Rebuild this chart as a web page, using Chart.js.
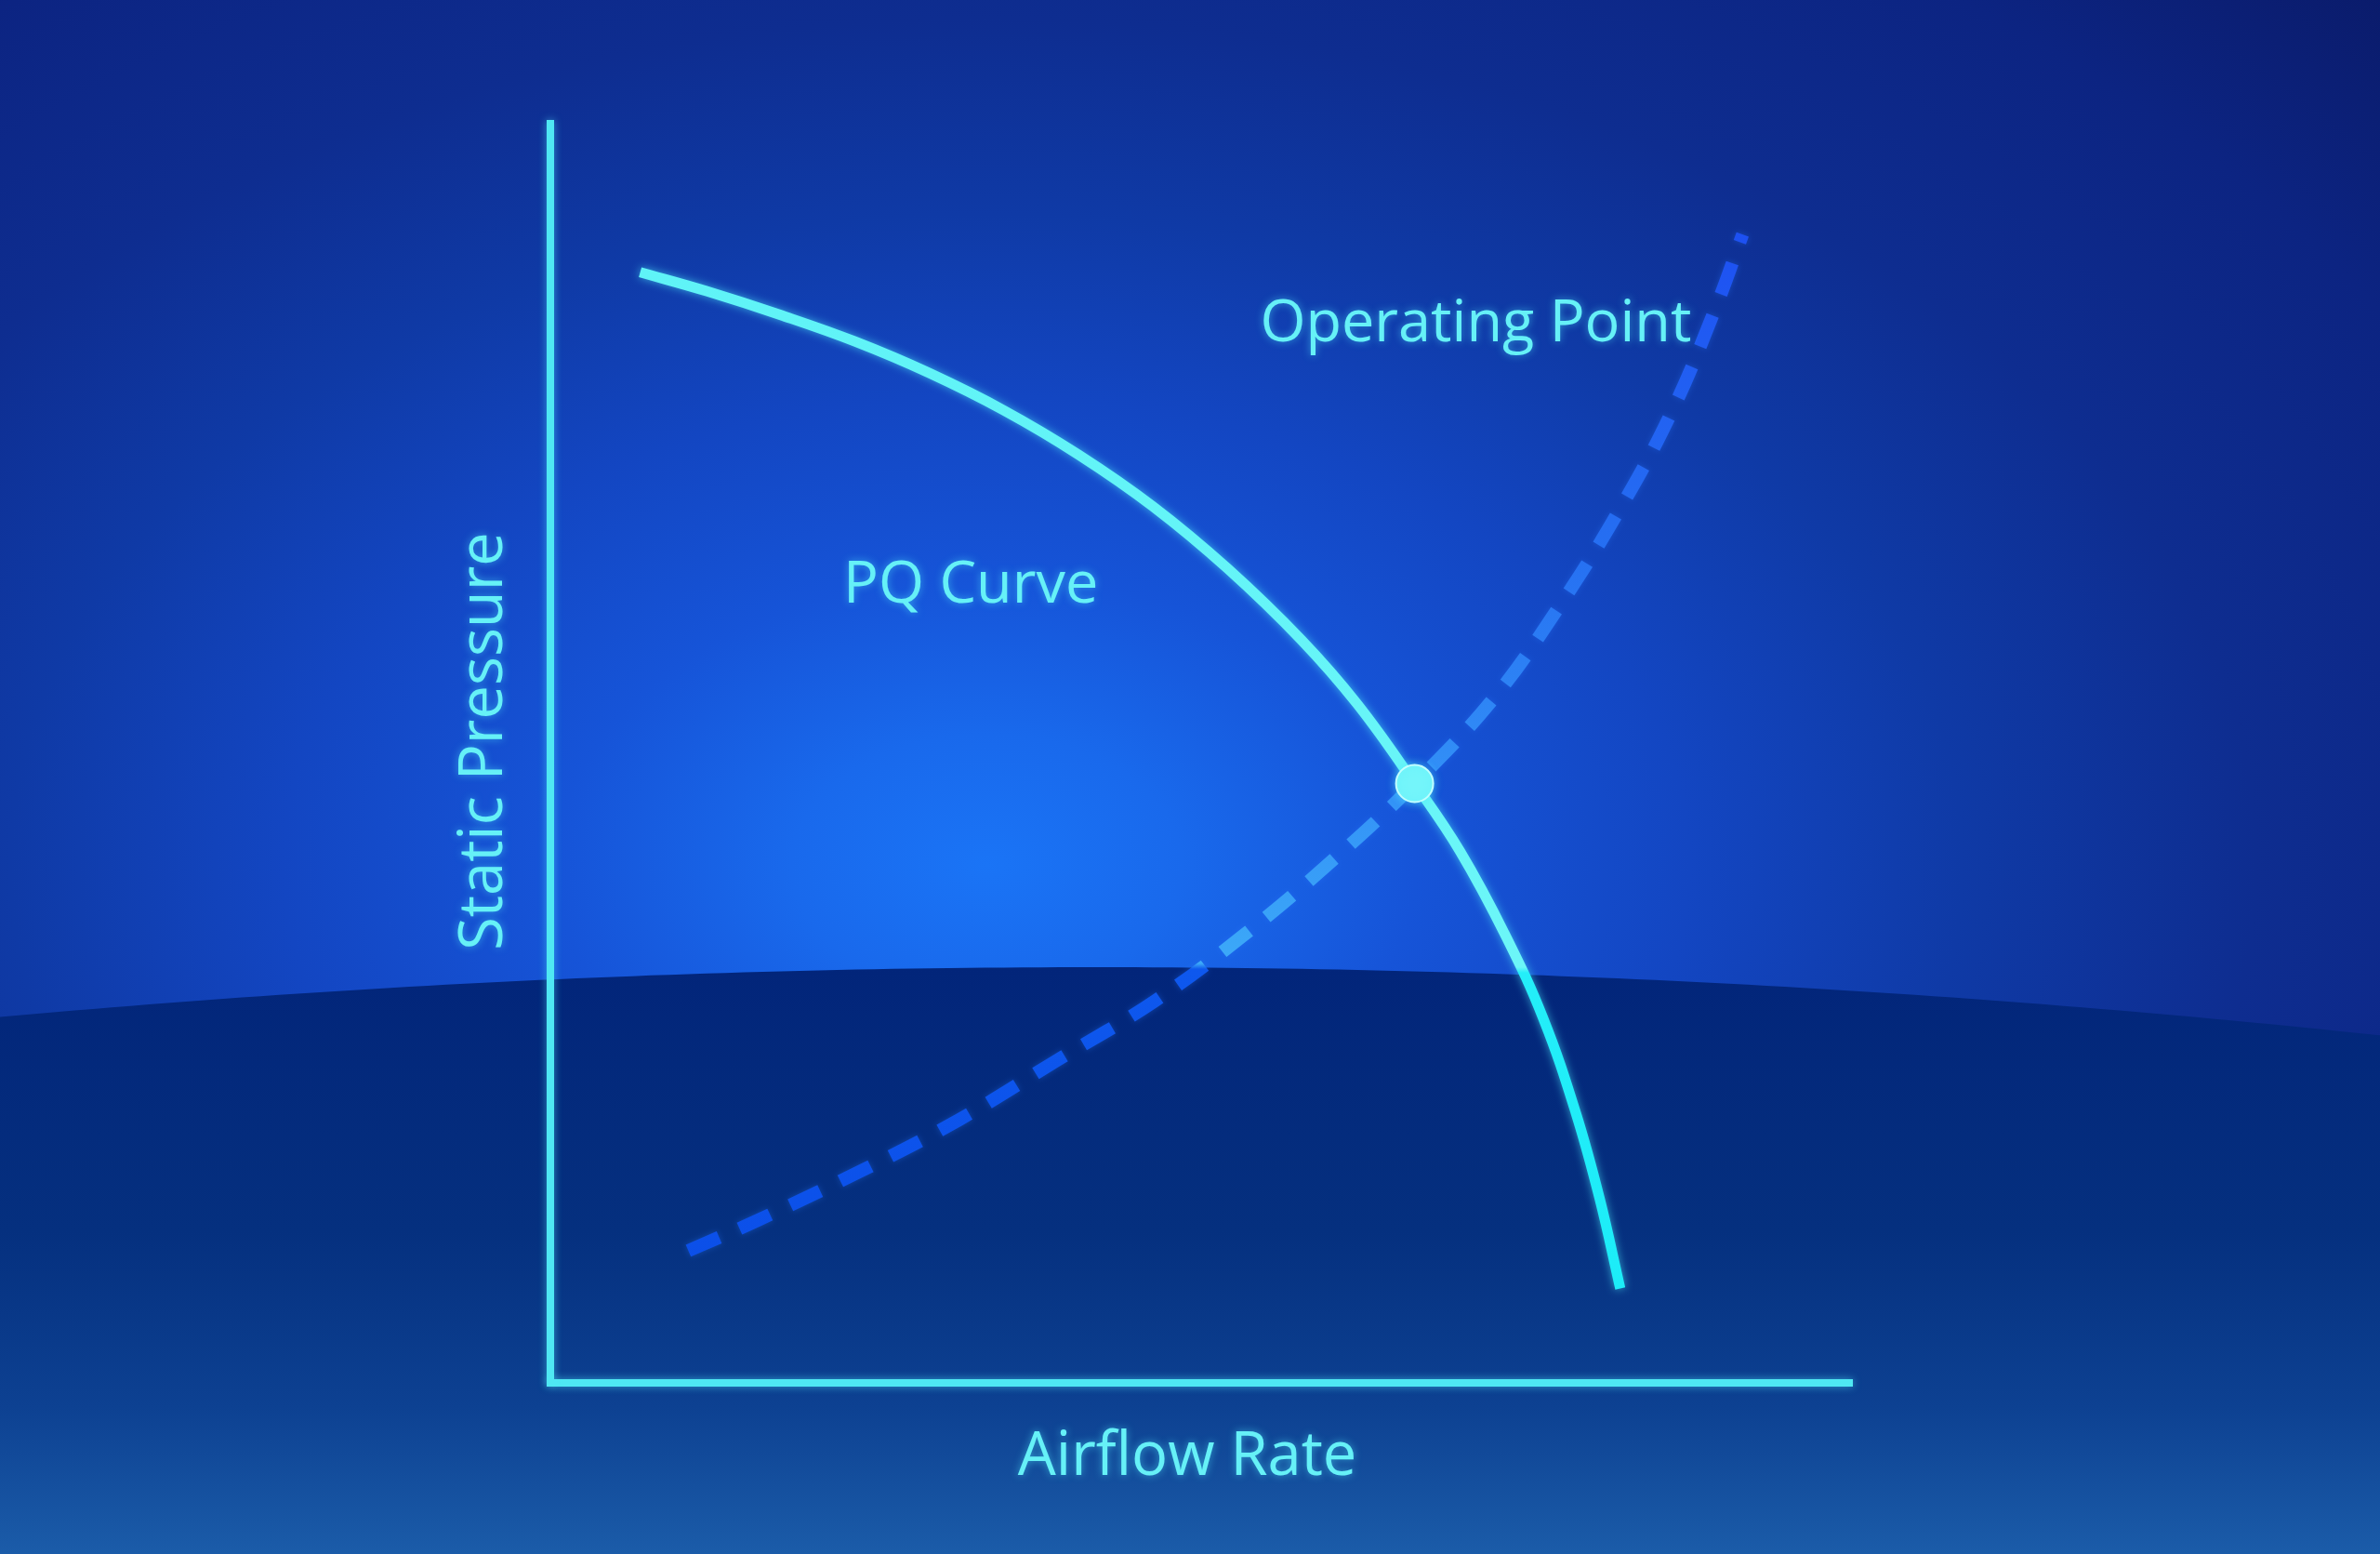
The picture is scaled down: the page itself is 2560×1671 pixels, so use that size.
<!DOCTYPE html>
<html>
<head>
<meta charset="utf-8">
<title>PQ Curve</title>
<script src="https://cdn.jsdelivr.net/npm/chart.js@4.4.1/dist/chart.umd.min.js"></script>
<style>
  html, body { margin: 0; padding: 0; background: #0b1a6c; overflow: hidden; }
  canvas { display: block; }
</style>
</head>
<body>
<canvas id="grafico-pq" width="2560" height="1671"></canvas>
<script>
// values, both axes 0..100 (no units shown)
const pqAirflow  = [6.9, 12.0, 17.7, 23.4, 29.1, 34.9, 40.6, 46.3, 52.0, 57.7, 62.0, 66.4, 69.9, 73.4, 76.3, 78.8, 80.6, 82.2];
const pqPressure = [88.2, 86.7, 84.8, 82.7, 80.2, 77.2, 73.7, 69.6, 64.7, 59.0, 53.9, 47.6, 42.2, 35.5, 28.9, 21.4, 14.7, 7.5];

const sysAirflow  = [10.6, 15.9, 23.8, 31.4, 38.9, 46.4, 53.2, 60.1, 66.4, 72.5, 77.4, 82.0, 86.1, 89.5, 91.6];
const sysPressure = [10.5, 12.9, 16.8, 20.9, 25.6, 30.3, 35.5, 41.5, 47.6, 54.4, 61.5, 69.1, 77.0, 85.3, 91.2];

const opAirflow  = [66.4];
const opPressure = [47.6];

const toPoints = (xs, ys) => xs.map((x, i) => ({ x: x, y: ys[i] }));

const textColor = '#66f1f7';
const axisColor = '#4fe8f3';
const fontName = "'Open Sans', 'Noto Sans', sans-serif";

// horizon of the darker lower band (canvas pixels)
const horizonY = (x) => 1040 + 3.85e-5 * (x - 1180) * (x - 1180);

function vGradient(chart, stops) {
  const g = chart.ctx.createLinearGradient(0, 0, 0, chart.height);
  stops.forEach(s => g.addColorStop(Math.min(1, Math.max(0, s[0] / chart.height)), s[1]));
  return g;
}

const background = {
  id: 'background',
  beforeDraw(chart) {
    const ctx = chart.ctx;
    const w = chart.width, h = chart.height;
    ctx.save();
    // elliptical glow, wider than tall
    ctx.save();
    ctx.translate(1061, 930);
    ctx.scale(1.5, 1);
    const r = ctx.createRadialGradient(0, 0, 0, 0, 0, 1400);
    r.addColorStop(0, '#1a74f6');
    r.addColorStop(0.1, '#1969ec');
    r.addColorStop(0.22, '#1654d8');
    r.addColorStop(0.36, '#1346c2');
    r.addColorStop(0.5, '#0f3aa6');
    r.addColorStop(0.65, '#0e2d90');
    r.addColorStop(0.83, '#0c2482');
    r.addColorStop(1, '#0a1a68');
    ctx.fillStyle = r;
    ctx.fillRect(-1061 / 1.5 - 10, -940, w / 1.5 + 20, h + 20);
    ctx.restore();

    // lower band
    ctx.beginPath();
    ctx.moveTo(0, h);
    for (let x = 0; x <= w; x += 20) ctx.lineTo(x, horizonY(x));
    ctx.lineTo(w, h);
    ctx.closePath();
    const b = ctx.createLinearGradient(0, 1040, 0, h);
    b.addColorStop(0, '#02257a');
    b.addColorStop(0.45, '#05307f');
    b.addColorStop(0.75, '#0d4192');
    b.addColorStop(1, '#1b5ca9');
    ctx.fillStyle = b;
    ctx.fill();
    ctx.restore();

    // glow for the axis lines
    ctx.shadowColor = 'rgba(80, 235, 255, 0.55)';
    ctx.shadowBlur = 8;
  },
  beforeDatasetsDraw(chart) {
    chart.ctx.shadowColor = 'rgba(0,0,0,0)';
    chart.ctx.shadowBlur = 0;
  }
};

const glow = {
  id: 'glow',
  beforeDatasetDraw(chart, args) {
    const ctx = chart.ctx;
    ctx.save();
    if (args.index === 2) {
      ctx.shadowColor = 'rgba(40, 120, 255, 0.35)';
      ctx.shadowBlur = 6;
    } else {
      ctx.shadowColor = 'rgba(80, 240, 255, 0.6)';
      ctx.shadowBlur = 10;
    }
  },
  afterDatasetDraw(chart) {
    chart.ctx.restore();
  }
};

// curve labels and axis titles
const notes = {
  id: 'notes',
  afterDraw(chart) {
    const items = [
      { text: 'Operating Point', x: 71.1, y: 82.7 },
      { text: 'PQ Curve', x: 32.3, y: 62.0 }
    ];
    const area = chart.chartArea;
    const ctx = chart.ctx;
    ctx.save();
    ctx.fillStyle = textColor;
    ctx.shadowColor = 'rgba(80, 235, 255, 0.55)';
    ctx.shadowBlur = 8;
    ctx.textAlign = 'center';

    ctx.font = '63px ' + fontName;
    ctx.textBaseline = 'alphabetic';
    items.forEach(n => {
      ctx.fillText(n.text, chart.scales.x.getPixelForValue(n.x), chart.scales.y.getPixelForValue(n.y));
    });

    ctx.font = '65px ' + fontName;
    ctx.textBaseline = 'middle';
    ctx.fillText('Airflow Rate', area.left + 685, area.bottom + 80);

    ctx.translate(area.left - 71, area.top + 664);
    ctx.rotate(-Math.PI / 2);
    ctx.fillText('Static Pressure', 0, 0);
    ctx.restore();
  }
};

const ctx = document.getElementById('grafico-pq');

new Chart(ctx, {
  type: 'scatter',
  data: {
    datasets: [{
      label: 'Operating Point',
      data: toPoints(opAirflow, opPressure),
      pointRadius: 20,
      pointBackgroundColor: '#74f5fa',
      pointBorderColor: '#c2feff',
      pointBorderWidth: 2
    }, {
      label: 'PQ Curve',
      data: toPoints(pqAirflow, pqPressure),
      showLine: true,
      pointRadius: 0,
      borderWidth: 11,
      borderCapStyle: 'butt',
      tension: 0.4,
      borderColor: (c) => vGradient(c.chart, [[280, '#5ff3f7'], [1040, '#6cf6f8'], [1046, '#24eef9'], [1400, '#1cecf8']])
    }, {
      label: 'System Curve',
      data: toPoints(sysAirflow, sysPressure),
      showLine: true,
      pointRadius: 0,
      borderWidth: 14,
      borderDash: [36, 24],
      borderCapStyle: 'butt',
      tension: 0.4,
      borderColor: (c) => vGradient(c.chart, [[250, '#1d50f2'], [600, '#2670f2'], [850, '#3392f7'], [1036, '#3ca9f8'], [1042, '#0e58ee'], [1400, '#0b4ee8']])
    }]
  },
  options: {
    responsive: false,
    animation: false,
    events: [],
    layout: {
      padding: { left: 592, right: 568, top: 133, bottom: 184 }
    },
    plugins: {
      legend: { display: false },
      tooltip: { enabled: false }
    },
    scales: {
      x: {
        type: 'linear',
        min: 0,
        max: 100,
        grid: { display: false, drawTicks: false },
        ticks: { display: false },
        border: { display: true, color: axisColor, width: 8 },
        title: { display: false, text: 'Airflow Rate' }
      },
      y: {
        type: 'linear',
        min: 0,
        max: 100,
        grid: { display: false, drawTicks: false },
        ticks: { display: false },
        border: { display: true, color: axisColor, width: 8 },
        title: { display: false, text: 'Static Pressure' }
      }
    }
  },
  plugins: [background, glow, notes]
});
</script>
</body>
</html>
